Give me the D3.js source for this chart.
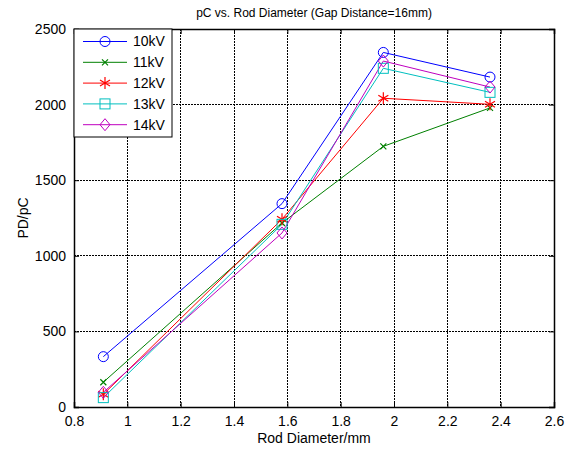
<!DOCTYPE html>
<html>
<head>
<meta charset="utf-8">
<script src="https://cdn.jsdelivr.net/npm/d3@7"></script>
<style>
  body { margin: 0; background: #fff; }
  svg text { font-family: "Liberation Sans", Arial, sans-serif; font-size: 11px; fill: #000; }
</style>
</head>
<body>
<div id="chart"></div>
<script>
// data
const rodDiameter = [0.91, 1.58, 1.96, 2.36];
const seriesNames = ["10kV", "11kV", "12kV", "13kV", "14kV"];
const pd10 = [333, 1345, 2345, 2182];
const pd11 = [164, 1217, 1724, 1978];
const pd12 = [84, 1242, 2042, 2002];
const pd13 = [62, 1208, 2240, 2081];
const pd14 = [97, 1151, 2288, 2116];
const seriesColors = ["#0000ff", "#008000", "#ff0000", "#00bfbf", "#bf00bf"];
const seriesMarkers = ["circle", "x", "star", "square", "diamond"];
const xTicks = [0.8, 1, 1.2, 1.4, 1.6, 1.8, 2, 2.2, 2.4, 2.6];
const yTicks = [0, 500, 1000, 1500, 2000, 2500];

const series = seriesNames.map((name, i) => ({
    name,
    color: seriesColors[i],
    marker: seriesMarkers[i],
    values: [pd10, pd11, pd12, pd13, pd14][i].map((v, j) => ({ x: rodDiameter[j], y: v }))
}));

const W = 566, H = 449;
const margin = { top: 29, right: 12, bottom: 42, left: 74 };
const width = W - margin.left - margin.right;
const height = H - margin.top - margin.bottom;

const svg = d3.select("#chart").append("svg")
    .attr("width", W).attr("height", H);
const g = svg.append("g").attr("transform", `translate(${margin.left},${margin.top})`);

const x = d3.scaleLinear().domain([0.8, 2.6]).range([0, width]);
const y = d3.scaleLinear().domain([0, 2500]).range([height, 0]);

// grid (dotted, matlab style)
g.append("g").selectAll("line").data(xTicks).join("line")
    .attr("x1", d => x(d)).attr("x2", d => x(d))
    .attr("y1", 0).attr("y2", height)
    .attr("stroke", "#000").attr("stroke-width", 1)
    .attr("stroke-dasharray", "2,1").attr("shape-rendering", "crispEdges");
g.append("g").selectAll("line").data(yTicks).join("line")
    .attr("x1", 0).attr("x2", width)
    .attr("y1", d => y(d)).attr("y2", d => y(d))
    .attr("stroke", "#000").attr("stroke-width", 1)
    .attr("stroke-dasharray", "2,1").attr("shape-rendering", "crispEdges");

// axes with inward ticks
g.append("g").attr("transform", `translate(0,${height})`)
    .call(d3.axisBottom(x).tickValues(xTicks).tickSize(-5).tickPadding(9).tickFormat(d3.format("")));
g.append("g")
    .call(d3.axisLeft(y).tickValues(yTicks).tickSize(-5).tickPadding(8).tickFormat(d3.format("d")));
g.append("g")
    .call(d3.axisTop(x).tickValues(xTicks).tickSize(-5).tickFormat(""));
g.append("g").attr("transform", `translate(${width},0)`)
    .call(d3.axisRight(y).tickValues(yTicks).tickSize(-5).tickFormat(""));
g.selectAll(".domain").attr("stroke", "#000").attr("stroke-width", 1.5);
g.selectAll(".tick line").attr("stroke", "#000");
g.selectAll(".tick text").style("font-size", "14px");

// lines
const line = d3.line().x(d => x(d.x)).y(d => y(d.y));
g.selectAll(".series").data(series).join("path")
    .attr("class", "series")
    .attr("d", d => line(d.values))
    .attr("fill", "none")
    .attr("stroke", d => d.color)
    .attr("stroke-width", 1);

function drawMarker(sel, type, color) {
    if (type === "circle") {
        sel.append("circle").attr("r", 5).attr("fill", "none").attr("stroke", color);
    } else if (type === "square") {
        sel.append("rect").attr("x", -5).attr("y", -5).attr("width", 10).attr("height", 10)
            .attr("fill", "none").attr("stroke", color);
    } else if (type === "diamond") {
        sel.append("path").attr("d", "M0,-6L5,0L0,6L-5,0Z").attr("fill", "none").attr("stroke", color);
    } else if (type === "x") {
        sel.append("path").attr("d", "M-3,-3L3,3M-3,3L3,-3").attr("stroke", color).attr("stroke-width", 1.2);
    } else if (type === "star") {
        sel.append("path").attr("d", "M0,-6V6M-5,-3L5,3M-5,3L5,-3").attr("stroke", color).attr("stroke-width", 1.2);
    }
}

series.forEach(s => {
    g.append("g").selectAll("g").data(s.values).join("g")
        .attr("transform", d => `translate(${x(d.x)},${y(d.y)})`)
        .each(function () { drawMarker(d3.select(this), s.marker, s.color); });
});

// legend
const legend = g.append("g");
legend.append("rect")
    .attr("x", 0).attr("y", 0).attr("width", 98).attr("height", 108)
    .attr("fill", "#fff").attr("stroke", "#000").attr("stroke-width", 1);
const items = legend.selectAll(".item").data(series).join("g")
    .attr("class", "item")
    .attr("transform", (d, i) => `translate(0,${12.5 + i * 20.8})`);
items.append("line").attr("x1", 9).attr("x2", 53).attr("y1", 0).attr("y2", 0)
    .attr("stroke", d => d.color);
items.append("g").attr("transform", "translate(31,0)")
    .each(function (d) { drawMarker(d3.select(this), d.marker, d.color); });
items.append("text").attr("x", 59).attr("y", 0).attr("dy", "0.35em")
    .style("font-size", "14px").text(d => d.name);

// titles
svg.append("text").attr("x", margin.left + width / 2).attr("y", 17)
    .attr("text-anchor", "middle").style("font-size", "12px")
    .text("pC vs. Rod Diameter (Gap Distance=16mm)");
svg.append("text").attr("x", margin.left + width / 2).attr("y", 443)
    .attr("text-anchor", "middle").style("font-size", "14px").text("Rod Diameter/mm");
svg.append("text").attr("transform", `translate(28,${margin.top + height / 2}) rotate(-90)`)
    .attr("text-anchor", "middle").style("font-size", "14px").text("PD/pC");
</script>
</body>
</html>
